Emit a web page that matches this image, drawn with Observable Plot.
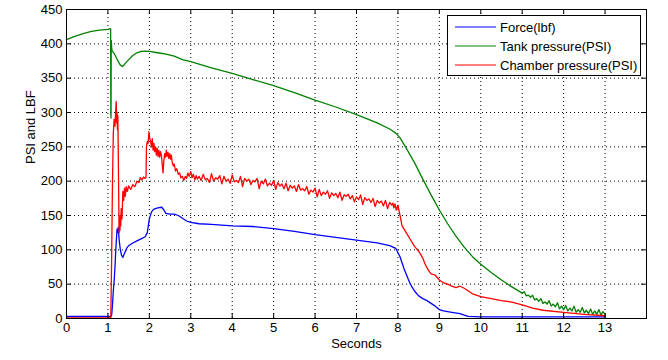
<!DOCTYPE html>
<html>
<head>
<meta charset="utf-8">
<script src="https://cdn.jsdelivr.net/npm/d3@7"></script>
<script src="https://cdn.jsdelivr.net/npm/@observablehq/plot@0.6"></script>
<style>
  body { margin: 0; background: #fff; }
  #wrap { position: relative; width: 668px; height: 360px; font-family: "Liberation Sans", Arial, sans-serif; }
  #legend { position: absolute; left: 447px; top: 15px; width: 192px; height: 59px; border: 1px solid #000; background: #fff; font-size: 13px; color: #000; }
  .row { position: absolute; left: 0; height: 16px; display: flex; align-items: center; }
  .row svg { margin-left: 7px; margin-right: 4px; }
</style>
</head>
<body>
<div id="wrap"></div>
<script>
// ---- Data ----
const xTicks = [0,1,2,3,4,5,6,7,8,9,10,11,12,13];
const yTicks = [0,50,100,150,200,250,300,350,400,450];
const seriesNames = ["Force(lbf)", "Tank pressure(PSI)", "Chamber pressure(PSI)"];
const seriesColors = ["#0000ff", "#008000", "#ff0000"];

// Force (blue)
const forceT = [0,0.5,1.0,1.07,1.09,1.11,1.13,1.15,1.17,1.19,1.21,1.22,1.24,1.25,1.27,1.3,1.33,1.36,1.4,1.45,1.5,1.6,1.7,1.8,1.9,1.95,2.0,2.05,2.1,2.2,2.3,2.35,2.4,2.5,2.6,2.7,2.8,2.9,3.0,3.2,3.5,4,4.5,5,5.5,6,6.5,7,7.5,7.8,7.95,8.05,8.15,8.25,8.3,8.4,8.5,8.6,8.7,8.8,8.9,9.0,9.1,9.3,9.5,9.6,9.7,10,11,12,13];
const forceV = [3,3,3,3,5,20,40,55,75,100,120,130,125,133,115,100,92,89,95,102,106,110,113,116,119,125,145,155,159,161,162,158,153,152,152,150,146,142,140,138,137,135,134,131,127,122,118,114,110,106,102,90,72,57,50,40,33,29,26,22,18,13,11,9,7,5,3,2.5,2.5,2.5,2.5];

// Tank pressure (green)
const tankT = [0,0.2,0.4,0.6,0.8,1.0,1.06,1.065,1.07,1.075,1.08,1.09,1.1,1.15,1.2,1.25,1.3,1.35,1.4,1.5,1.6,1.7,1.8,1.9,2.0,2.2,2.4,2.6,2.8,3.0,3.5,4,4.5,5,5.5,6,6.5,7,7.5,7.8,7.95,8.05,8.2,8.4,8.6,8.8,9,9.2,9.4,9.6,9.8,10,10.25,10.5,10.75,
  11.00,11.05,11.10,11.15,11.20,11.25,11.30,11.35,11.40,11.45,11.50,11.55,11.60,11.65,11.70,11.75,11.80,11.85,11.90,11.95,12.00,12.05,12.10,12.15,12.20,12.25,12.30,12.35,12.40,12.45,12.50,12.55,12.60,12.65,12.70,12.75,12.80,12.85,12.90,12.95,13.00,13.01];
const tankV = [406,411,415,418,420,421,422,422,300,292,405,395,390,386,380,374,369,367,370,377,383,387,389,389.5,389,387,385,382,377,374,365,357,348,339,329,318,308,297,285,276,270,263,248,227,203,180,158,138,120,104,90,79,67,56,46,
  37,39,33,34,31,34,27,29,25,29,22,24,21,26,18,21,17,23,14,18,13,19,11,15,11,18,9,13,9,16,8,12,7,14,6,11,6,13,5,10,6,1];

// Chamber pressure (red)
const chamberT = [0,1.05,1.07,1.09,1.11,1.13,1.15,1.17,1.19,1.2,1.21,1.22,1.23,1.24,1.25,1.26,1.27,1.28,1.29,1.3,1.31,1.32,1.34,1.36,1.38,1.4,1.42,1.44,1.47,1.5,1.55,1.6,1.65,1.7,1.75,1.78,1.82,1.86,1.9,1.92,1.93,1.95,1.97,1.99,2.01,2.03,2.05,2.07,2.09,2.11,2.13,2.15,2.17,2.19,2.21,2.23,2.25,2.27,2.29,2.31,2.33,2.35,2.37,2.39,2.41,2.43,2.45,2.47,2.49,2.51,2.53,2.55,2.58,2.6,2.63,2.66,2.7,2.73,2.76,2.8,2.83,2.87,2.9,2.93,2.96,3.0,3.03,3.06,3.1,3.13,3.16,3.2,3.25,
  3.30,3.35,3.40,3.45,3.50,3.55,3.60,3.65,3.70,3.75,3.80,3.85,3.90,3.95,4.00,4.05,4.10,4.15,4.20,4.25,4.30,4.35,4.40,4.45,4.50,4.55,4.60,4.65,4.70,4.75,4.80,4.85,4.90,4.95,5.00,5.05,5.10,5.15,5.20,5.25,5.30,5.35,5.40,5.45,5.50,5.55,5.60,5.65,5.70,5.75,5.80,5.85,5.90,5.95,6.00,6.05,6.10,6.15,6.20,6.25,6.30,6.35,6.40,6.45,6.50,6.55,6.60,6.65,6.70,6.75,6.80,6.85,6.90,6.95,7.00,7.05,7.10,7.15,7.20,7.25,7.30,7.35,7.40,7.45,7.50,7.55,7.60,7.65,7.70,7.75,7.80,7.85,7.88,
  7.90,7.93,7.96,8.0,8.05,8.1,8.2,8.3,8.4,8.5,8.6,8.65,8.7,8.75,8.8,8.9,9.0,9.1,9.2,9.3,9.4,9.5,9.6,9.7,9.8,10.0,10.25,10.5,10.75,11.0,11.25,11.5,12.0,12.5,13.0];
const chamberV = [1,1,2,90,200,270,290,280,305,316,285,300,275,295,240,180,125,145,128,150,135,160,145,185,172,190,178,192,185,193,188,195,192,200,198,205,202,206,204,206,250,258,255,272,262,258,250,262,245,255,243,250,238,248,236,245,235,243,238,225,212,230,240,235,245,236,242,233,240,232,238,228,222,225,215,218,210,212,205,207,201,207,204,212,207,214,205,210,202,208,203,207,201,
  210,202,204,198,211,200,205,203,208,196,207,200,203,197,209,199,201,198,207,192,204,200,203,195,201,199,204,189,200,196,203,193,197,194,201,188,198,193,196,189,197,186,194,190,193,185,195,187,189,186,192,181,187,184,190,177,188,179,184,181,186,175,183,179,182,176,184,172,180,178,181,174,179,170,177,173,180,166,176,172,174,169,175,163,172,168,171,164,172,160,169,165,168,161,167,158,165,
  150,135,125,115,105,98,88,80,74,69,65,63,56,52,50,47,45,47,44,40,36,32,29,26,24,20,15,12,9,6,4,3,2,1.5,1];

// ---- Build tables ----
const toRows = (T, V) => T.map((t, i) => ({t, v: V[i]}));
const force = toRows(forceT, forceV);
const tank = toRows(tankT, tankV);
const chamber = toRows(chamberT, chamberV);

const W = 668, H = 360, mL = 66, mR = 22, mT = 9, mB = 42;
const plotW = W - mL - mR, plotH = H - mT - mB;
const font = "Liberation Sans, Arial, Helvetica, sans-serif";
const grid = {stroke: "#000", strokeOpacity: 1, strokeWidth: 1, strokeDasharray: "1,3"};
const lw = 1.3;

const chart = Plot.plot({
  width: W, height: H,
  marginLeft: mL, marginRight: mR, marginTop: mT, marginBottom: mB,
  style: {fontFamily: font, fontSize: "13px", color: "#000", background: "#fff", overflow: "visible"},
  x: {domain: [0, 14]},
  y: {domain: [0, 450]},
  marks: [
    Plot.gridX(xTicks, grid),
    Plot.gridY(yTicks, grid),
    Plot.line(force, {x: "t", y: "v", stroke: seriesColors[0], strokeWidth: lw}),
    Plot.line(tank, {x: "t", y: "v", stroke: seriesColors[1], strokeWidth: lw}),
    Plot.line(chamber, {x: "t", y: "v", stroke: seriesColors[2], strokeWidth: lw}),
    Plot.frame({stroke: "#000", strokeWidth: 1}),
    Plot.tickX(xTicks, {x: d => d, insetTop: plotH - 5, stroke: "#000"}),
    Plot.tickX(xTicks, {x: d => d, insetBottom: plotH - 5, stroke: "#000"}),
    Plot.tickY(yTicks, {y: d => d, insetRight: plotW - 5, stroke: "#000"}),
    Plot.tickY(yTicks, {y: d => d, insetLeft: plotW - 5, stroke: "#000"}),
    Plot.axisX(xTicks, {tickSize: 0, tickPadding: 4, label: null, fontSize: 13}),
    Plot.axisY(yTicks, {tickSize: 0, tickPadding: 4, label: null, fontSize: 13}),
    Plot.text(["Seconds"], {frameAnchor: "bottom", dy: 29, fontSize: 13, fill: "#000"}),
    Plot.text(["PSI and LBF"], {frameAnchor: "left", dx: -36, rotate: -90, fontSize: 13, fill: "#000"})
  ]
});

const wrap = document.getElementById("wrap");
wrap.appendChild(chart);

// Legend (as in the reference: Force blue, Tank green, Chamber red)
const legend = document.createElement("div");
legend.id = "legend";
const rowTops = [3, 22, 41];
seriesNames.forEach((name, i) => {
  const row = document.createElement("div");
  row.className = "row";
  row.style.top = rowTops[i] + "px";
  row.innerHTML = `<svg width="41" height="4"><line x1="0" x2="41" y1="2" y2="2" stroke="${seriesColors[i]}" stroke-width="1"/></svg><span>${name}</span>`;
  legend.appendChild(row);
});
wrap.appendChild(legend);
</script>
</body>
</html>
